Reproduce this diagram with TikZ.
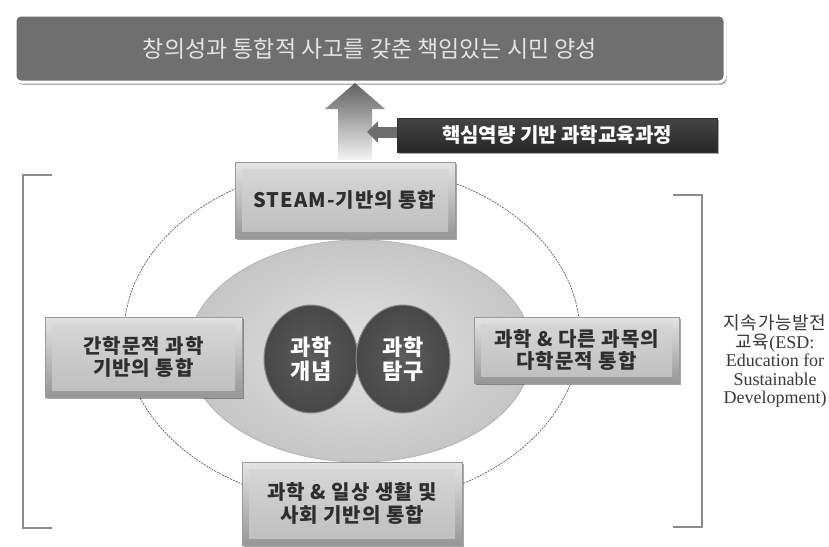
\documentclass[tikz,border=0pt]{standalone}
\usepackage{fontspec}
\setmainfont{Noto Sans CJK KR}
\newfontfamily\latinserif{Liberation Serif}
\usetikzlibrary{shadows,calc,arrows.meta,shapes.geometric}
\definecolor{topfill}{HTML}{6F6F6F}
\definecolor{toptext}{HTML}{E4E4E4}
\definecolor{darkfillA}{HTML}{454545}
\definecolor{darkfillB}{HTML}{262626}
\definecolor{bevTop}{HTML}{E4E4E4}
\definecolor{bevBot}{HTML}{969696}
\definecolor{faceTop}{HTML}{D8D8D8}
\definecolor{faceBot}{HTML}{BDBDBD}
\definecolor{edgeline}{HTML}{9A9A9A}
\definecolor{boxtext}{HTML}{2E2E2E}
\definecolor{ellfill}{HTML}{D7D7D7}
\definecolor{ellline}{HTML}{B4B4B4}
\definecolor{circin}{HTML}{5C5C5C}
\definecolor{circout}{HTML}{474747}
\definecolor{circline}{HTML}{8A8A8A}
\definecolor{bracket}{HTML}{8C8C8C}
\definecolor{sidetext}{HTML}{383838}
\definecolor{arrowtop}{HTML}{606060}
\definecolor{arrowbot}{HTML}{F4F4F4}
\definecolor{smallarrow}{HTML}{6E6E6E}
\tikzset{
  bevelbox/.style={draw=edgeline, line width=0.6pt, top color=bevTop, bottom color=bevBot,
    drop shadow={shadow xshift=2pt, shadow yshift=-2pt, opacity=0.35, fill=black},
    path picture={\shade[top color=faceTop, bottom color=faceBot]
      ($(path picture bounding box.north west)+(7pt,-7pt)$) rectangle
      ($(path picture bounding box.south east)+(-7pt,7pt)$);},
    font=\fontsize{20}{22.5}\selectfont\bfseries\addfontfeatures{LetterSpace=5}, text=boxtext, align=center, inner sep=0pt},
  coreball/.style={ellipse, draw=circline, line width=1pt, inner color=circin, outer color=circout,
    minimum width=94pt, minimum height=108pt, inner sep=0pt,
    font=\fontsize{22}{24}\selectfont\bfseries, text=white, align=center},
  bracketline/.style={draw=bracket, line width=2pt}
}
\begin{document}
\begin{tikzpicture}[x=1pt,y=-1pt]
\useasboundingbox (0,0) rectangle (829,546);

% outer dashed ellipse
\draw[draw=black!70, line width=0.6pt, dash pattern=on 2pt off 1pt] (352,335) ellipse [x radius=228, y radius=170];

% inner ellipse
\node (core) [ellipse, draw=ellline, line width=0.8pt, inner color=ellfill!70!white, outer color=ellfill!92!black,
  minimum width=344pt, minimum height=222pt] at (360,351) {};

% circles
\node (concept) [coreball] at (311,359) {과학\\개념};
\node (inquiry) [coreball] at (403,359) {과학\\탐구};

% top box
\node (goal) [rounded corners=6pt, fill=topfill, draw=white, line width=3pt,
  drop shadow={shadow xshift=1.5pt, shadow yshift=-2.5pt, opacity=0.45, fill=black},
  minimum width=710pt, minimum height=67pt, inner sep=0pt,
  font=\fontsize{23}{26}\selectfont, text=toptext] at (370,48.5)
  {창의성과 통합적 사고를 갖춘 책임있는 시민 양성};

% dark box
\node (core curriculum) [top color=darkfillA, bottom color=darkfillB, draw=black!80, line width=0.5pt,
  drop shadow={shadow xshift=2pt, shadow yshift=-2pt, opacity=0.35, fill=black},
  minimum width=320pt, minimum height=34pt, inner sep=0pt,
  font=\fontsize{20}{22}\selectfont\bfseries, text=white] at (557,135)
  {핵심역량 기반 과학교육과정};

% bevel boxes
\node (steam) [bevelbox, minimum width=220pt, minimum height=76pt] at (345,200) {STEAM-기반의 통합};
\node (inter) [bevelbox, minimum width=197pt, minimum height=80pt] at (143.5,357) {간학문적 과학\\기반의 통합};
\node (multi) [bevelbox, minimum width=205pt, minimum height=66pt] at (576.5,350) {과학 \& 다른 과목의\\다학문적 통합};
\node (daily) [bevelbox, minimum width=220pt, minimum height=83pt] at (352,503.5) {과학 \& 일상 생활 및\\사회 기반의 통합};

% big upward arrow
\coordinate (arrowtip) at (355,83);
\coordinate (arrowbase) at (355,160);
\shade[top color=arrowtop, bottom color=arrowbot]
  ($(arrowbase)+(-17,0)$) -- ($(arrowbase)+(-17,-51)$) -- ($(arrowtip)+(-30,26)$) -- (arrowtip)
  -- ($(arrowtip)+(30,26)$) -- ($(arrowbase)+(17,-51)$) -- ($(arrowbase)+(17,0)$) -- cycle;

% small left arrow
\coordinate (smalltip) at (367,132);
\draw[smallarrow, line width=11pt, -{Triangle[length=11pt,width=21pt]}] (core curriculum.west |- smalltip) -- (smalltip);

% brackets
\draw[bracketline] (52,175) -- (23,175) -- (23,528) -- (52,528);
\draw[bracketline] (673,195) -- (702,195) -- (702,527) -- (673,527);

% side label
\node (esd) [align=center, text=sidetext, inner sep=0pt,
  font=\latinserif\fontsize{18}{18.5}\selectfont] at (775,361)
  {{\normalfont\addfontfeatures{LetterSpace=4}지속가능발전}\\
   {\normalfont\addfontfeatures{LetterSpace=4}교육}(ESD:\\
   Education for\\
   Sustainable\\
   Development)};
\end{tikzpicture}
\end{document}
